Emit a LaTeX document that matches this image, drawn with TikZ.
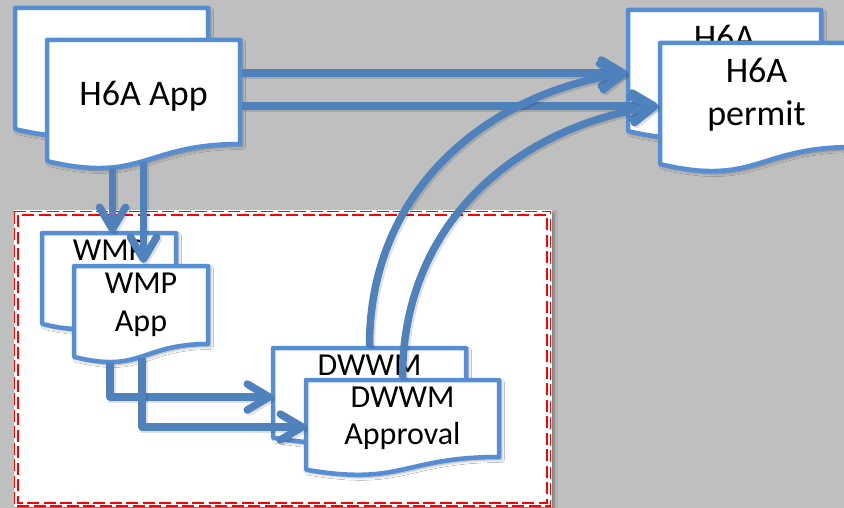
\documentclass[tikz,border=0pt]{standalone}
\usepackage{fontspec}
\setmainfont{Carlito}
\usetikzlibrary{arrows.meta,shadows.blur,calc}
\definecolor{bggray}{HTML}{BFBFBF}
\definecolor{docblue}{HTML}{558ED5}
\definecolor{connblue}{HTML}{4F81BD}
\definecolor{boxred}{HTML}{FF0000}
\makeatletter
\newdimen\dcL \newdimen\dcR \newdimen\dcT \newdimen\dcB
\newdimen\dcM \newdimen\dcC \newdimen\dcE
\pgfdeclareshape{docshape}{%
  \inheritsavedanchors[from=rectangle]%
  \inheritanchorborder[from=rectangle]%
  \inheritanchor[from=rectangle]{center}%
  \inheritanchor[from=rectangle]{north}%
  \inheritanchor[from=rectangle]{south}%
  \inheritanchor[from=rectangle]{east}%
  \inheritanchor[from=rectangle]{west}%
  \inheritanchor[from=rectangle]{north east}%
  \inheritanchor[from=rectangle]{north west}%
  \inheritanchor[from=rectangle]{south east}%
  \inheritanchor[from=rectangle]{south west}%
  \inheritanchor[from=rectangle]{mid}%
  \inheritanchor[from=rectangle]{base}%
  \backgroundpath{%
    \southwest \dcL=\pgf@x \dcB=\pgf@y
    \northeast \dcR=\pgf@x \dcT=\pgf@y
    \dcM=\dcL \advance\dcM by \dcR \divide\dcM by 2
    \dcC=\dcT \advance\dcC by -\dcB
    \dcE=-0.1646\dcC \advance\dcE by \dcB
    \dcC=-0.381\dcC \advance\dcC by \dcB
    \pgfpathmoveto{\pgfqpoint{\dcL}{\dcT}}%
    \pgfpathlineto{\pgfqpoint{\dcR}{\dcT}}%
    \pgfpathlineto{\pgfqpoint{\dcR}{\dcB}}%
    \pgfpathcurveto{\pgfqpoint{\dcM}{\dcB}}{\pgfqpoint{\dcM}{\dcC}}{\pgfqpoint{\dcL}{\dcE}}%
    \pgfpathclose
  }%
}
\makeatother
\tikzset{
  softshadow/.style={blur shadow={shadow xshift=2.5pt, shadow yshift=-2.5pt,
      shadow blur radius=3pt, shadow opacity=40}},
  doc/.style={shape=docshape, draw=docblue, line width=4.5pt, fill=white,
    line join=round, inner sep=0pt, outer sep=0pt, align=center,
    anchor=north west, softshadow},
  bigdoc/.style={doc, minimum width=193pt, minimum height=104pt,
    font=\fontsize{36}{43}\selectfont,
    execute at begin node={\rule{0pt}{33pt}}},
  wmpdoc/.style={doc, minimum width=134pt, minimum height=78pt,
    font=\fontsize{32}{38}\selectfont,
    execute at begin node={\rule{0pt}{30pt}}},
  dwdoc/.style={doc, minimum width=193pt, minimum height=77pt,
    font=\fontsize{32}{37}\selectfont,
    execute at begin node={\rule{0pt}{30pt}}},
  conn/.style={draw=connblue, line width=7.5pt, line join=round,
    -{Straight Barb[round, length=22pt, width=26pt]},
    preaction={draw=black, draw opacity=0.12, line width=7.5pt,
      transform canvas={xshift=2pt, yshift=-2pt}}},
  redline/.style={draw=boxred, line width=1.8pt, dash pattern=on 12pt off 4.5pt},
}
\begin{document}
\begin{tikzpicture}[x=1pt, y=-1pt]
\useasboundingbox (0,0) rectangle (844,508);
\fill[bggray] (0,0) rectangle (844,508);
% dashed group box
\fill[white, softshadow] (13.5,210.5) rectangle (551.5,507);
\draw[redline] (14.5,211.5) rectangle (550.5,506);
\draw[redline] (18,215) rectangle (547,502.7);
% permit documents
\node[bigdoc] (permB) at (628,10) {H6A\\permit};
\node[bigdoc] (permF) at (660,43) {H6A\\permit};
% DWWM documents
\node[dwdoc] (dwB) at (273,348) {DWWM\\Approval};
\node[dwdoc] (dwF) at (306,380) {DWWM\\Approval};
% WMP documents
\node[wmpdoc] (wmpB) at (42,233) {WMP\\App};
\node[wmpdoc] (wmpF) at (74,266) {WMP\\App};
% H6A App documents
\node[bigdoc] (appB) at (15,8) {};
\node[bigdoc] (appF) at (47,40) {H6A App};
% WMP App -> DWWM Approval
\draw[conn] ([xshift=-31pt,yshift=-19pt]wmpF.south) |- ([yshift=-49pt]dwB.north west);
\draw[conn] ([xshift=1pt,yshift=-14pt]wmpF.south) |- ([yshift=-47pt]dwF.north west);
% H6A App -> WMP App
\draw[conn] ([xshift=-31pt,yshift=-24pt]appF.south) -- ([xshift=-31pt]appF.south |- wmpB.north);
\draw[conn] ([yshift=-18pt]appF.south) -- ([yshift=3pt]appF.south |- wmpF.north);
% H6A App -> H6A permit
\draw[conn] ([xshift=2pt,yshift=-33pt]appF.north east) -- ([xshift=-1pt,yshift=-63pt]permB.north west);
\draw[conn] ([xshift=2pt,yshift=-66pt]appF.north east) -- ([xshift=-2pt,yshift=-63pt]permF.north west);
% DWWM Approval -> H6A permit
\draw[conn] ([yshift=2pt]dwB.north) .. controls +(0,-160) and +(-135,20) ..
  ([xshift=-1pt,yshift=-63pt]permB.north west);
\draw[conn] ([yshift=2pt]dwF.north) .. controls +(0,-160) and +(-135,20) ..
  ([xshift=-2pt,yshift=-63pt]permF.north west);
\end{tikzpicture}
\end{document}
